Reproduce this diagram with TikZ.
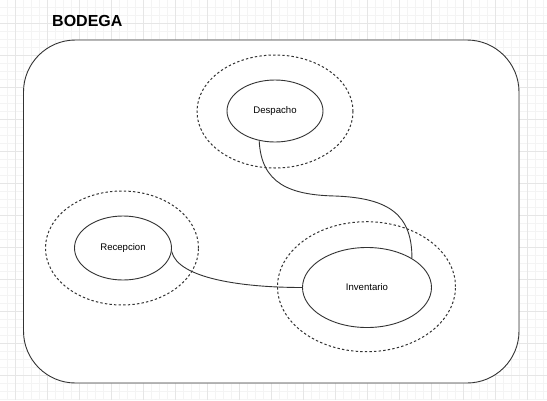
\documentclass[tikz,border=0pt]{standalone}
\usepackage{fontspec}
\setmainfont{Liberation Sans}
\usetikzlibrary{shapes.geometric}
\definecolor{gridminor}{HTML}{F4F4F4}
\definecolor{gridmajor}{HTML}{E6E6E6}
\definecolor{stroke}{HTML}{333333}
\tikzset{
  inner/.style={ellipse, draw=stroke, line width=0.9pt, fill=white, inner sep=0pt, font=\fontsize{9.6}{11}\selectfont},
  outer/.style={ellipse, draw=stroke, line width=1pt, dash pattern=on 2.4pt off 2.2pt, inner sep=0pt},
  link/.style={draw=stroke, line width=0.9pt},
}
\begin{document}
\begin{tikzpicture}[x=1pt,y=-1pt]
\useasboundingbox (0,0) rectangle (547,400);
\fill[white] (0,0) rectangle (547,400);
% grid
\foreach \k in {0,...,68} {
  \draw[gridminor, line width=0.6pt] ({7.3+8*\k},0) -- ({7.3+8*\k},400);
}
\foreach \k in {0,...,49} {
  \draw[gridminor, line width=0.6pt] (0,{7.3+8*\k}) -- (547,{7.3+8*\k});
}
\foreach \k in {0,...,17} {
  \draw[gridmajor, line width=0.6pt] ({15.3+32*\k},0) -- ({15.3+32*\k},400);
}
\foreach \k in {0,...,12} {
  \draw[gridmajor, line width=0.6pt] (0,{23.3+32*\k}) -- (547,{23.3+32*\k});
}
% title
\node[anchor=base west, inner sep=0pt, font=\fontsize{16}{18}\bfseries\selectfont] (title) at (52,26) {BODEGA};
% main container
\draw[draw=stroke, line width=0.9pt, fill=white, rounded corners=52pt] (23.5,40) rectangle (519,383);
% outer dashed ellipses
\node[outer, minimum width=156pt, minimum height=113pt] (despo) at (275,111.5) {};
\node[outer, minimum width=153pt, minimum height=114pt] (reco) at (122,248) {};
\node[outer, minimum width=178pt, minimum height=130pt] (invo) at (366.5,286.7) {};
% inner ellipses
\node[inner, minimum width=96pt, minimum height=62pt] (desp) at (275,111) {Despacho};
\node[inner, minimum width=97pt, minimum height=64pt] (rec) at (123,248) {Recepcion};
\node[inner, minimum width=129pt, minimum height=80pt] (inv) at (367,287.5) {Inventario};
% connectors
\coordinate (bend) at (335,196);
\draw[link] (desp.-118) .. controls +(2,43) and +(-45,-1) .. (bend)
  .. controls +(55,2) and +(0,-43) .. (inv.33);
\draw[link] (rec.-4) .. controls +(6,27) and +(-60,0) .. (inv.west);
\end{tikzpicture}
\end{document}
